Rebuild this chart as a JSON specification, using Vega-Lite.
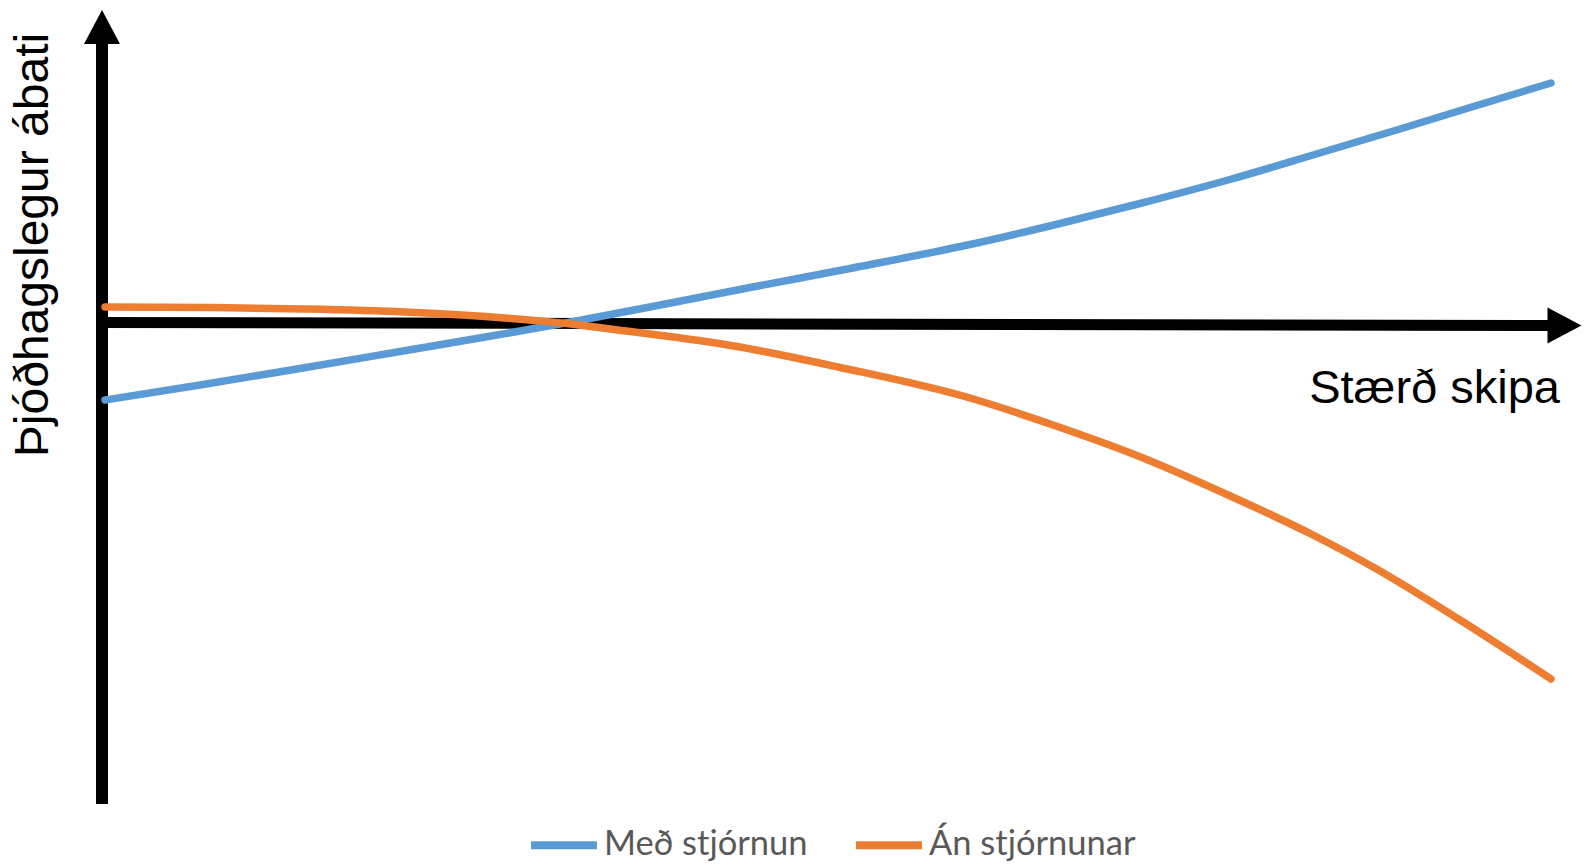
{
  "$schema": "https://vega.github.io/schema/vega-lite/v6.json",
  "width": 1584,
  "height": 865,
  "autosize": {"type": "fit", "contains": "padding"},
  "padding": 0,
  "background": "white",
  "config": {"view": {"stroke": null}},
  "datasets": {
    "curves": [
      {"s": "Með stjórnun", "x": 0.21, "y": -25.83},
      {"s": "Með stjórnun", "x": 6.76, "y": -20.83},
      {"s": "Með stjórnun", "x": 13.66, "y": -15.33},
      {"s": "Með stjórnun", "x": 20.55, "y": -9.67},
      {"s": "Með stjórnun", "x": 27.45, "y": -4.0},
      {"s": "Með stjórnun", "x": 32.34, "y": 0.17},
      {"s": "Með stjórnun", "x": 37.79, "y": 5.17},
      {"s": "Með stjórnun", "x": 44.69, "y": 11.67},
      {"s": "Með stjórnun", "x": 51.59, "y": 18.0},
      {"s": "Með stjórnun", "x": 59.86, "y": 26.0},
      {"s": "Með stjórnun", "x": 65.79, "y": 32.67},
      {"s": "Með stjórnun", "x": 71.72, "y": 39.83},
      {"s": "Með stjórnun", "x": 77.66, "y": 47.5},
      {"s": "Með stjórnun", "x": 83.52, "y": 55.83},
      {"s": "Með stjórnun", "x": 89.52, "y": 64.5},
      {"s": "Með stjórnun", "x": 94.69, "y": 72.17},
      {"s": "Með stjórnun", "x": 99.93, "y": 79.83},
      {"s": "Án stjórnunar", "x": 0.21, "y": 5.17},
      {"s": "Án stjórnunar", "x": 7.59, "y": 5.0},
      {"s": "Án stjórnunar", "x": 13.86, "y": 4.5},
      {"s": "Án stjórnunar", "x": 20.83, "y": 3.5},
      {"s": "Án stjórnunar", "x": 27.79, "y": 1.5},
      {"s": "Án stjórnunar", "x": 32.34, "y": -0.5},
      {"s": "Án stjórnunar", "x": 36.14, "y": -2.83},
      {"s": "Án stjórnunar", "x": 43.79, "y": -8.0},
      {"s": "Án stjórnunar", "x": 50.76, "y": -14.83},
      {"s": "Án stjórnunar", "x": 59.86, "y": -25.17},
      {"s": "Án stjórnunar", "x": 65.79, "y": -34.5},
      {"s": "Án stjórnunar", "x": 71.72, "y": -45.0},
      {"s": "Án stjórnunar", "x": 77.66, "y": -57.5},
      {"s": "Án stjórnunar", "x": 83.52, "y": -70.83},
      {"s": "Án stjórnunar", "x": 87.72, "y": -81.67},
      {"s": "Án stjórnunar", "x": 93.66, "y": -99.17},
      {"s": "Án stjórnunar", "x": 99.93, "y": -118.83}
    ],
    "axes": [
      {"part": "y", "x": 0, "y": 94.17, "x2": 0, "y2": -160.5, "w": 12},
      {"part": "x", "x": -0.41, "y": 0, "x2": 99.86, "y2": -1, "w": 11}
    ],
    "heads": [
      {"dir": "up", "x": 0, "y": 98.5},
      {"dir": "right", "x": 100.86, "y": -1}
    ],
    "xlabel": [{"t": "Stærð skipa", "x": 100.55, "y": -26.83}],
    "ylabel": [{"t": "Þjóðhagslegur ábati", "x": -3.72, "y": 25.83}]
  },
  "layer": [
    {
      "data": {"name": "axes"},
      "mark": {"type": "rule", "color": "black", "strokeCap": "butt"},
      "encoding": {
        "x": {"field": "x", "type": "quantitative", "scale": {"domain": [-7.034, 102.207], "nice": false, "zero": false}, "axis": null},
        "y": {"field": "y", "type": "quantitative", "scale": {"domain": [-180.83, 107.5], "nice": false, "zero": false}, "axis": null},
        "x2": {"field": "x2"},
        "y2": {"field": "y2"},
        "strokeWidth": {"field": "w", "type": "quantitative", "scale": null, "legend": null}
      }
    },
    {
      "data": {"name": "heads"},
      "mark": {"type": "point", "filled": true, "color": "black", "opacity": 1, "size": 1296, "strokeWidth": 0},
      "encoding": {
        "x": {"field": "x", "type": "quantitative"},
        "y": {"field": "y", "type": "quantitative"},
        "shape": {"field": "dir", "type": "nominal", "scale": {"domain": ["up", "right"], "range": ["M-1,0.944L0,-0.944L1,0.944Z", "M-0.944,-1L0.944,0L-0.944,1Z"]}, "legend": null}
      }
    },
    {
      "data": {"name": "curves"},
      "mark": {"type": "line", "strokeWidth": 7.5, "strokeCap": "round", "strokeJoin": "round", "interpolate": "monotone"},
      "encoding": {
        "x": {"field": "x", "type": "quantitative"},
        "y": {"field": "y", "type": "quantitative"},
        "color": {
          "field": "s", "type": "nominal",
          "scale": {"domain": ["Með stjórnun", "Án stjórnunar"], "range": ["#5B9BD5", "#ED7D31"]},
          "legend": {
            "title": null, "orient": "none", "direction": "horizontal",
            "legendX": 527, "legendY": 808, "padding": 0,
            "symbolType": "stroke", "symbolSize": 4356, "symbolStrokeWidth": 8,
            "labelFont": "Lato", "labelFontSize": 34.5, "labelColor": "#595959",
            "labelOffset": 3, "columnPadding": 32, "labelLimit": 0
          }
        }
      }
    },
    {
      "data": {"name": "xlabel"},
      "mark": {"type": "text", "font": "Liberation Sans", "fontSize": 47, "color": "black", "baseline": "alphabetic", "align": "right"},
      "encoding": {
        "x": {"field": "x", "type": "quantitative"},
        "y": {"field": "y", "type": "quantitative"},
        "text": {"field": "t"}
      }
    },
    {
      "data": {"name": "ylabel"},
      "mark": {"type": "text", "font": "Liberation Sans", "fontSize": 48, "color": "black", "baseline": "alphabetic", "align": "center", "angle": 270},
      "encoding": {
        "x": {"field": "x", "type": "quantitative"},
        "y": {"field": "y", "type": "quantitative"},
        "text": {"field": "t"}
      }
    }
  ]
}
